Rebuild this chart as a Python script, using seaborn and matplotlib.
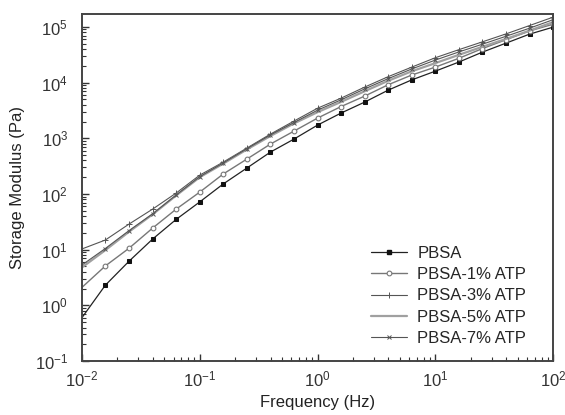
import matplotlib
matplotlib.use("Agg")
import numpy as np
import pandas as pd
import matplotlib.pyplot as plt
from matplotlib.lines import Line2D
import seaborn as sns

sns.set_style("ticks")
plt.rcParams['font.family'] = ['Liberation Sans', 'DejaVu Sans']
plt.rcParams['mathtext.default'] = 'regular'

# Frequency sweep (Hz), 5 points per decade
freq = [0.01, 0.0158, 0.0251, 0.0398, 0.0631, 0.1, 0.158, 0.251, 0.398, 0.631,
        1.0, 1.58, 2.51, 3.98, 6.31, 10, 15.8, 25.1, 39.8, 63.1, 100]

# Storage modulus (Pa)
g_pbsa = [0.6, 2.3, 6.2, 15.5, 35, 72, 151, 292, 565, 968,
          1726, 2834, 4467, 7330, 11200, 16070, 23350, 35300, 51200, 74300, 99200]
g_1 = [2.1, 5.1, 10.6, 24.4, 53.5, 108, 228, 423, 787, 1346,
       2306, 3710, 5720, 9160, 13700, 19000, 27300, 40900, 58900, 84700, 112000]
g_3 = [10.3, 14.9, 28.8, 53.5, 104, 218, 373, 667, 1189, 2040,
       3470, 5250, 8300, 12800, 19000, 28000, 39000, 54000, 75000, 106000, 150000]
g_5 = [4.8, 9.8, 21, 43, 94, 200, 350, 630, 1100, 1850,
       2950, 4500, 7000, 10800, 16000, 22400, 31500, 44000, 61000, 86000, 122000]
g_7 = [5.3, 10.5, 22, 44, 96, 205, 360, 650, 1150, 1920,
       3200, 4900, 7700, 11800, 17600, 25400, 35500, 49000, 68000, 95000, 135000]

labels = ["PBSA", "PBSA-1% ATP", "PBSA-3% ATP", "PBSA-5% ATP", "PBSA-7% ATP"]
series = [g_pbsa, g_1, g_3, g_5, g_7]

styles = {
    "PBSA":        dict(color="#222222", lw=0.9, marker="s", ms=3.2, mfc="#111111", mec="#111111"),
    "PBSA-1% ATP": dict(color="#777777", lw=1.0, marker="o", ms=3.4, mfc="white", mec="#777777", mew=0.8),
    "PBSA-3% ATP": dict(color="#555555", lw=0.8, marker="+", ms=4.0, mec="#555555", mew=0.7),
    "PBSA-5% ATP": dict(color="#a0a0a0", lw=1.6, marker=None),
    "PBSA-7% ATP": dict(color="#555555", lw=0.8, marker="x", ms=3.0, mec="#555555", mew=0.7),
}

fig, ax = plt.subplots(figsize=(5.65, 4.15), dpi=100)
fig.subplots_adjust(left=0.145, right=0.979, top=0.966, bottom=0.130)

for lab, vals in zip(labels, series):
    df = pd.DataFrame({"f": freq, "G": vals})
    sns.lineplot(data=df, x="f", y="G", ax=ax, markevery=slice(1, None), legend=False, **styles[lab])

ax.set_xscale("log")
ax.set_yscale("log")
ax.set_xlim(0.01, 100)
ax.set_ylim(0.1, 1.7e5)

ax.set_xlabel("Frequency (Hz)", fontsize=12, color="#222222", labelpad=4)
ax.set_ylabel("Storage Modulus (Pa)", fontsize=12, color="#222222", labelpad=7)

ax.tick_params(which="both", direction="in", top=False, right=False, labelsize=12, colors="#333333")
ax.tick_params(which="major", length=5, width=1)
ax.tick_params(axis="x", which="major", pad=6)
ax.tick_params(axis="y", which="major", pad=10)
ax.tick_params(which="minor", length=3, width=0.8)
for sp in ax.spines.values():
    sp.set_linewidth(1.4)
    sp.set_color("#444444")

handles = [Line2D([0], [0], **styles[lab]) for lab in labels]
leg = ax.legend(handles, labels, loc="lower right", bbox_to_anchor=(0.975, 0.0), frameon=False, fontsize=12,
                handlelength=2.2, handletextpad=0.6, labelspacing=0.38, numpoints=1)
# only one marker in the middle of each legend line
for ln in leg.get_lines():
    x = ln.get_xdata()
    y = ln.get_ydata()
    ln.set_data([x[0], (x[0] + x[-1]) / 2, x[-1]], [y[0]] * 3)
    ln.set_markevery([1])

fig.savefig("out.png", dpi=100)
